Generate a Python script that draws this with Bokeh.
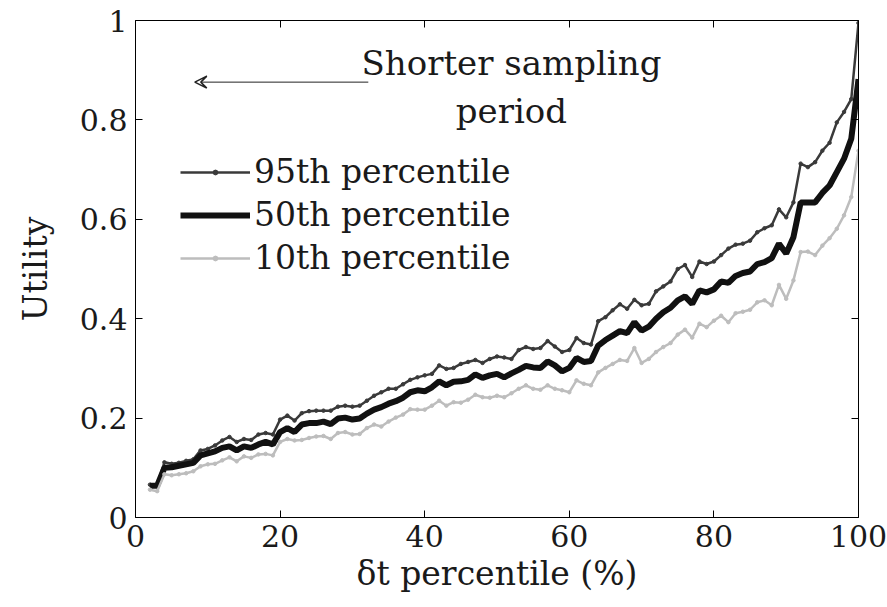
from bokeh.plotting import figure
from bokeh.models import (Legend, LegendItem, LinearAxis, CustomJSTickFormatter,
                          FixedTicker, Arrow, VeeHead, Range1d)
from bokeh.embed import file_html
from bokeh.resources import INLINE
from bokeh.core.properties import value

# ---------------- data ----------------
pct = list(range(2, 101))

p95 = [0.066, 0.066, 0.111, 0.108, 0.110, 0.114, 0.117, 0.135, 0.138, 0.145,
       0.155, 0.162, 0.152, 0.158, 0.156, 0.167, 0.170, 0.167, 0.197, 0.205,
       0.195, 0.210, 0.214, 0.215, 0.215, 0.215, 0.223, 0.225, 0.223, 0.225,
       0.235, 0.245, 0.252, 0.259, 0.259, 0.268, 0.277, 0.282, 0.286, 0.289,
       0.306, 0.299, 0.301, 0.309, 0.313, 0.317, 0.311, 0.319, 0.324, 0.322,
       0.319, 0.337, 0.343, 0.339, 0.341, 0.355, 0.344, 0.333, 0.337, 0.361,
       0.351, 0.348, 0.395, 0.403, 0.417, 0.429, 0.420, 0.438, 0.427, 0.430,
       0.455, 0.465, 0.475, 0.500, 0.508, 0.484, 0.515, 0.510, 0.515, 0.528,
       0.541, 0.549, 0.551, 0.557, 0.574, 0.582, 0.588, 0.620, 0.604, 0.634,
       0.712, 0.705, 0.715, 0.738, 0.754, 0.795, 0.816, 0.842, 0.995]

p50 = [0.064, 0.064, 0.100, 0.101, 0.104, 0.107, 0.110, 0.125, 0.129, 0.133,
       0.140, 0.143, 0.135, 0.143, 0.140, 0.147, 0.152, 0.147, 0.172, 0.180,
       0.172, 0.187, 0.190, 0.190, 0.193, 0.188, 0.199, 0.201, 0.197, 0.199,
       0.209, 0.217, 0.222, 0.229, 0.234, 0.241, 0.252, 0.256, 0.254, 0.262,
       0.274, 0.266, 0.273, 0.274, 0.277, 0.288, 0.281, 0.286, 0.289, 0.282,
       0.290, 0.297, 0.305, 0.302, 0.301, 0.314, 0.306, 0.294, 0.301, 0.321,
       0.313, 0.315, 0.346, 0.357, 0.366, 0.375, 0.371, 0.393, 0.376, 0.384,
       0.400, 0.413, 0.422, 0.437, 0.445, 0.430, 0.457, 0.453, 0.459, 0.475,
       0.472, 0.486, 0.492, 0.495, 0.510, 0.514, 0.522, 0.551, 0.531, 0.564,
       0.634, 0.634, 0.634, 0.653, 0.668, 0.695, 0.722, 0.762, 0.882]

p10 = [0.056, 0.053, 0.087, 0.085, 0.087, 0.089, 0.093, 0.103, 0.107, 0.108,
       0.115, 0.121, 0.113, 0.123, 0.120, 0.127, 0.128, 0.125, 0.152, 0.158,
       0.155, 0.156, 0.160, 0.163, 0.164, 0.158, 0.170, 0.172, 0.167, 0.168,
       0.180, 0.187, 0.183, 0.193, 0.201, 0.207, 0.218, 0.217, 0.217, 0.225,
       0.235, 0.225, 0.232, 0.231, 0.237, 0.247, 0.242, 0.241, 0.245, 0.242,
       0.250, 0.259, 0.266, 0.259, 0.257, 0.266, 0.259, 0.256, 0.252, 0.276,
       0.269, 0.266, 0.292, 0.301, 0.309, 0.317, 0.315, 0.341, 0.311, 0.319,
       0.333, 0.343, 0.351, 0.368, 0.378, 0.362, 0.390, 0.383, 0.396, 0.406,
       0.393, 0.411, 0.414, 0.418, 0.433, 0.437, 0.427, 0.468, 0.440, 0.477,
       0.534, 0.535, 0.528, 0.547, 0.562, 0.581, 0.608, 0.645, 0.738]

labels = ["95th percentile", "50th percentile", "10th percentile"]
x_ticks = [0, 20, 40, 60, 80, 100]
y_ticks = [0, 0.2, 0.4, 0.6, 0.8, 1]
annot_text = "Shorter sampling\nperiod"

# ---------------- style ----------------
FONT = "DejaVu Serif"
C95, C50, C10 = "#3a3a3a", "#111111", "#bdbdbd"

p = figure(width=887, height=607, output_backend="svg", toolbar_location=None,
           x_range=Range1d(0, 100), y_range=Range1d(0, 1),
           min_border_left=135, min_border_right=29, min_border_top=20,
           min_border_bottom=90)
p.outline_line_color = None
p.grid.visible = False
p.background_fill_color = "white"

fmt = CustomJSTickFormatter(code="return String(Number(tick.toFixed(2)));")
blank = CustomJSTickFormatter(code="return '';")

for ax in (p.xaxis[0], p.yaxis[0]):
    ax.major_tick_in = 7
    ax.major_tick_out = 0
    ax.minor_tick_line_color = None
    ax.axis_line_color = "black"
    ax.major_tick_line_color = "black"
    ax.major_label_text_font = FONT
    ax.major_label_text_font_size = "30px"
    ax.major_label_text_color = "#1a1a1a"
    ax.axis_label_text_font = FONT
    ax.axis_label_text_font_size = "33px"
    ax.axis_label_text_font_style = "normal"
    ax.axis_label_text_color = "#1a1a1a"
    ax.formatter = fmt

p.xaxis[0].ticker = FixedTicker(ticks=x_ticks)
p.yaxis[0].ticker = FixedTicker(ticks=y_ticks)
p.xaxis[0].axis_label = "δt percentile (%)"
p.yaxis[0].axis_label = "Utility"
p.xaxis[0].major_label_standoff = 7
p.yaxis[0].major_label_standoff = 8
p.xaxis[0].axis_label_standoff = 4
p.yaxis[0].axis_label_standoff = 22

top_ax = LinearAxis(ticker=FixedTicker(ticks=x_ticks), formatter=blank,
                    major_label_text_font_size="1px", major_label_standoff=0,
                    major_tick_in=7, major_tick_out=0, minor_tick_line_color=None)
right_ax = LinearAxis(ticker=FixedTicker(ticks=y_ticks), formatter=blank,
                      major_label_text_font_size="1px", major_label_standoff=0,
                      major_tick_in=7, major_tick_out=0, minor_tick_line_color=None)
p.add_layout(top_ax, "above")
p.add_layout(right_ax, "right")

l95 = p.line(pct, p95, line_color=C95, line_width=2.5)
s95 = p.scatter(pct, p95, size=3.5, fill_color=C95, line_color=C95)
l50 = p.line(pct, p50, line_color=C50, line_width=6)
l10 = p.line(pct, p10, line_color=C10, line_width=2.5)
s10 = p.scatter(pct, p10, size=3.5, fill_color=C10, line_color=C10)

legend = Legend(items=[LegendItem(label=labels[0], renderers=[l95, s95]),
                       LegendItem(label=labels[1], renderers=[l50]),
                       LegendItem(label=labels[2], renderers=[l10, s10])],
                location=(45, 238), border_line_color=None,
                background_fill_alpha=0, padding=0, spacing=0,
                glyph_width=70, glyph_height=12, label_height=43,
                label_standoff=4, label_text_font=FONT,
                label_text_font_size="33px", label_text_color="#1a1a1a",
                margin=0)
p.add_layout(legend, "center")

# annotation: arrow and text
p.add_layout(Arrow(x_start=32.2, y_start=0.876, x_end=8.2, y_end=0.876,
                   line_color="#222222", line_width=1,
                   end=VeeHead(size=12, line_color="#222222", line_width=1.5,
                               fill_color=None)))
p.text(x=[52.0], y=[0.866], text=[annot_text], text_font=value(FONT),
       text_font_size="34px", text_align="center", text_baseline="middle",
       text_color="#1a1a1a", text_line_height=1.2)

open("out.html", "w").write(file_html(p, INLINE))
